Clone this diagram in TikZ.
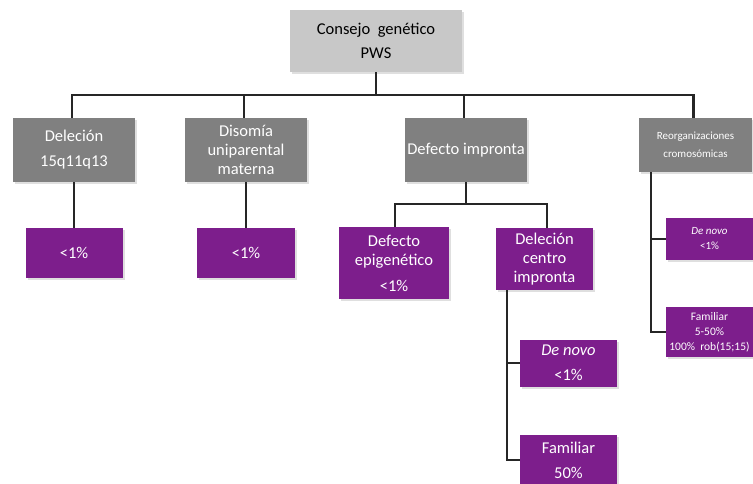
\documentclass[tikz,border=0pt]{standalone}
\usepackage{fontspec}
\setmainfont{Carlito}
\usepackage{xcolor}
\usepackage{tikz}
\usetikzlibrary{calc, positioning, shadows}
\definecolor{rootgray}{RGB}{200,200,200}
\definecolor{causegray}{RGB}{128,128,128}
\definecolor{riskpurple}{RGB}{125,30,140}

\begin{document}
\begin{tikzpicture}[x=1pt, y=-1pt,
  root/.style={fill=rootgray, text=black, align=center, inner sep=0pt, minimum width=172pt, minimum height=62pt, font=\fontsize{16.5}{24}\selectfont, drop shadow={opacity=0.25, shadow xshift=2pt, shadow yshift=-2pt}},
  cause/.style={fill=causegray, text=white, align=center, inner sep=0pt, minimum width=122pt, minimum height=64pt, font=\fontsize{16.5}{19}\selectfont, drop shadow={opacity=0.25, shadow xshift=2pt, shadow yshift=-2pt}},
  risk/.style={fill=riskpurple, text=white, align=center, inner sep=0pt, font=\fontsize{16.5}{19}\selectfont, drop shadow={opacity=0.25, shadow xshift=2pt, shadow yshift=-2pt}},
  link/.style={draw=black!85, line width=2.4pt}]
      \useasboundingbox (0,0) rectangle (753,484);
      \node[root] (pws) at (376,41) {Consejo~ genético\\PWS};
      \node[cause, font=\fontsize{16.5}{25}\selectfont] (del) at (74,150) {Deleción\\15q11q13};
      \node[cause] (uni) at (246,150) {Disomía\\uniparental\\materna};
      \node[cause] (imp) at (466,150) {Defecto impronta};
      \node[cause, minimum width=113pt, minimum height=54pt, font=\fontsize{11}{18}\selectfont] (reorg) at (695.5,145) {Reorganizaciones\\cromosómicas};
      \node[risk, minimum width=97pt, minimum height=50pt, below=46pt of del] (delrisk) {<1\%};
      \node[risk, minimum width=98pt, minimum height=50pt, below=46pt of uni] (unirisk) {<1\%};
      \node[risk, minimum width=110pt, minimum height=71pt] (epi) at (394,263) {Defecto\\epigenético\\[7pt]<1\%};
      \node[risk, minimum width=97pt, minimum height=62pt] (dci) at (544.5,259) {Deleción\\centro\\impronta};
      \node[risk, minimum width=97pt, minimum height=47pt, font=\fontsize{16.5}{25}\selectfont] (dcinovo) at (568.5,363) {\textit{De novo}\\<1\%};
      \node[risk, minimum width=97pt, minimum height=50pt, font=\fontsize{16.5}{25}\selectfont, below=48pt of dcinovo] (dcifam) {Familiar\\50\%};
      \node[risk, minimum width=87pt, minimum height=42pt, font=\fontsize{11}{15}\selectfont] (reorgnovo) at (709.5,239) {\textit{De novo}\\<1\%};
      \node[risk, minimum width=87pt, minimum height=50pt, font=\fontsize{11.5}{15}\selectfont] (reorgfam) at (709.5,332) {Familiar\\5-50\%\\100\%~ rob(15;15)};
      % connectors
      \coordinate (bus) at (376,95);
      \draw[link] (pws.south) -- (bus);
      \foreach \n in {del, uni, imp, reorg}
        \draw[link] (bus) -| ([xshift=-2pt]\n.north);
      \draw[link] (del.south) -- (delrisk.north);
      \draw[link] (uni.south) -- (unirisk.north);
      \coordinate (impbus) at (466,204);
      \draw[link] (imp.south) -- (impbus);
      \draw[link] (impbus) -| ([xshift=1pt]epi.north);
      \draw[link] (impbus) -| ([xshift=2.5pt]dci.north);
      \coordinate (dcibus) at ([xshift=11pt]dci.south west);
      \draw[link] (dcibus) |- (dcinovo.west);
      \draw[link] (dcibus) |- (dcifam.west);
      \coordinate (reorgbus) at ([xshift=12pt]reorg.south west);
      \draw[link] (reorgbus) |- (reorgnovo.west);
      \draw[link] (reorgbus) |- (reorgfam.west);
    \end{tikzpicture}
\end{document}
